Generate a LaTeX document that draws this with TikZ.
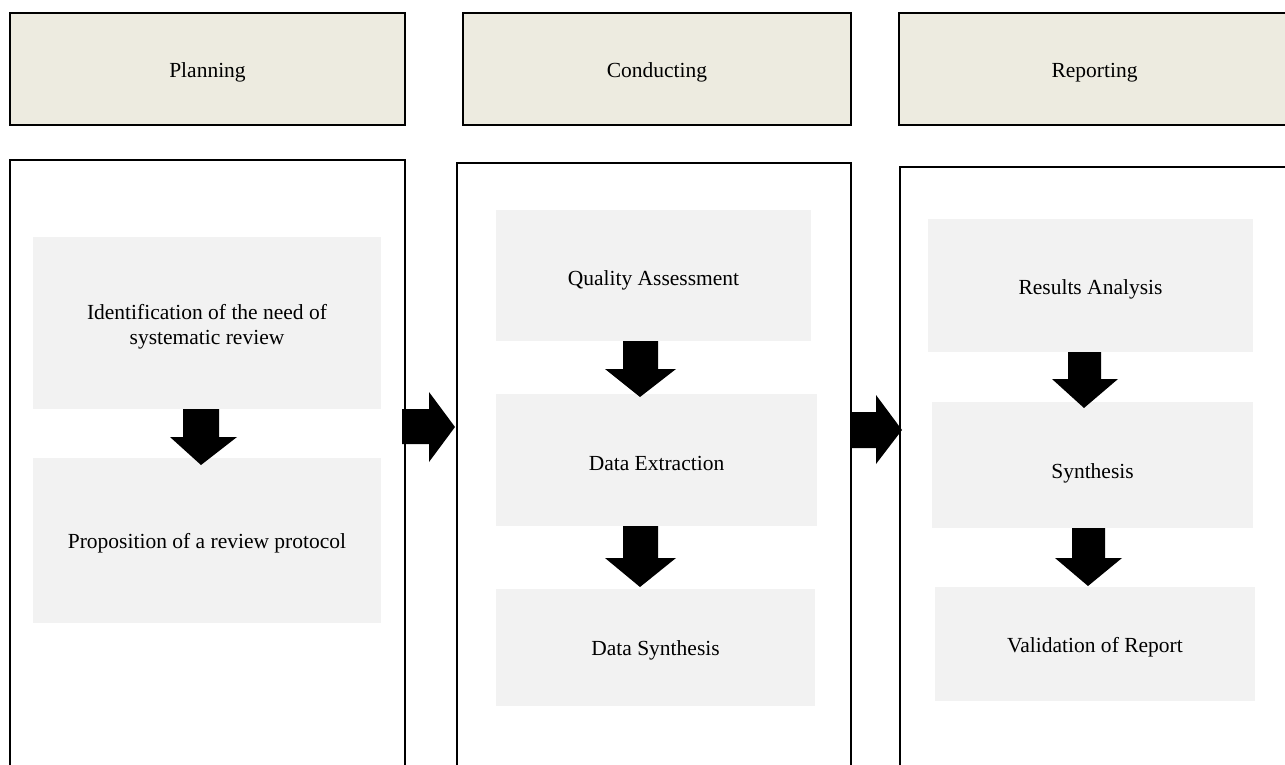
\documentclass[tikz,border=0pt]{standalone}
\usepackage{fontspec}
\setmainfont{Liberation Serif}
\definecolor{hdrfill}{HTML}{EDEBE0}
\definecolor{boxfill}{HTML}{F2F2F2}
\begin{document}
\begin{tikzpicture}[x=1pt,y=-1pt,
  hdr/.style={rectangle, draw=black, line width=2.6pt, fill=hdrfill, inner sep=0pt},
  phase/.style={rectangle, draw=black, line width=2pt, fill=white, inner sep=0pt},
  stepbox/.style={rectangle, draw=none, fill=boxfill, inner sep=0pt},
  txt/.style={inner sep=0pt, align=center, font=\fontsize{21.5}{25}\selectfont},
  blockarrow/.style={fill=black, draw=none}]
\useasboundingbox (0,0) rectangle (1285,765);
% headers
\node[hdr, minimum width=395, minimum height=112] (hplan) at (207.5,69) {};
\node[hdr, minimum width=388, minimum height=112] (hcond) at (657,69) {};
\node[hdr, minimum width=391, minimum height=112] (hrep) at (1094.5,69) {};
\node[txt] (hplant) at ([yshift=-3pt]hplan.center) {Planning};
\node[txt] (hcondt) at ([yshift=-3pt]hcond.center) {Conducting};
\node[txt] (hrept) at ([yshift=-4pt]hrep.center) {Reporting};
% phase boxes
\node[phase, minimum width=395, minimum height=640] (pplan) at (207.5,480) {};
\node[phase, minimum width=394, minimum height=637] (pcond) at (654,481.5) {};
\node[phase, minimum width=395, minimum height=633] (prep) at (1097.5,483.5) {};
% steps
\node[stepbox, minimum width=348, minimum height=172] (idn) at (207,323) {};
\node[stepbox, minimum width=348, minimum height=165] (prop) at (207,540.5) {};
\node[stepbox, minimum width=315, minimum height=131] (qa) at (653.5,275.5) {};
\node[stepbox, minimum width=321, minimum height=132] (de) at (656.5,460) {};
\node[stepbox, minimum width=319, minimum height=117] (ds) at (655.5,647.5) {};
\node[stepbox, minimum width=325, minimum height=133] (ra) at (1090.5,285.5) {};
\node[stepbox, minimum width=321, minimum height=126] (syn) at (1092.5,465) {};
\node[stepbox, minimum width=320, minimum height=114] (val) at (1095,644) {};
\node[txt] (idnt) at ([yshift=-4pt]idn.center) {Identification of the need of\\systematic review};
\node[txt] (propt) at ([yshift=-3pt]prop.center) {Proposition of a review protocol};
\node[txt] (qat) at ([yshift=-5pt]qa.center) {Quality Assessment};
\node[txt] (det) at ([yshift=-3pt]de.center) {Data Extraction};
\node[txt] (dst) at ([yshift=-3pt]ds.center) {Data Synthesis};
\node[txt] (rat) at ([yshift=-4pt]ra.center) {Results Analysis};
\node[txt] (synt) at ([yshift=-8pt]syn.center) {Synthesis};
\node[txt] (valt) at ([yshift=-3pt]val.center) {Validation of Report};
% down arrows
\fill[blockarrow] (183,409) -- (219,409) -- (219,437) -- (237,437) -- (201,465) -- (170,437) -- (183,437) -- cycle;
\fill[blockarrow] (623,341) -- (658,341) -- (658,369) -- (676,369) -- (640,397) -- (605,369) -- (623,369) -- cycle;
\fill[blockarrow] (623,526) -- (658,526) -- (658,558) -- (676,558) -- (640,587) -- (605,558) -- (623,558) -- cycle;
\fill[blockarrow] (1068,352) -- (1101,352) -- (1101,379) -- (1118,379) -- (1084,408) -- (1052,379) -- (1068,379) -- cycle;
\fill[blockarrow] (1072,528) -- (1105,528) -- (1105,558) -- (1122,558) -- (1088,586) -- (1055,558) -- (1072,558) -- cycle;
% right arrows
\fill[blockarrow] (402,409) -- (429,409) -- (429,392) -- (455,427) -- (429,462) -- (429,444) -- (402,444) -- cycle;
\fill[blockarrow] (850,412) -- (876,412) -- (876,395) -- (902,430) -- (876,464) -- (876,448) -- (850,448) -- cycle;
\end{tikzpicture}
\end{document}
